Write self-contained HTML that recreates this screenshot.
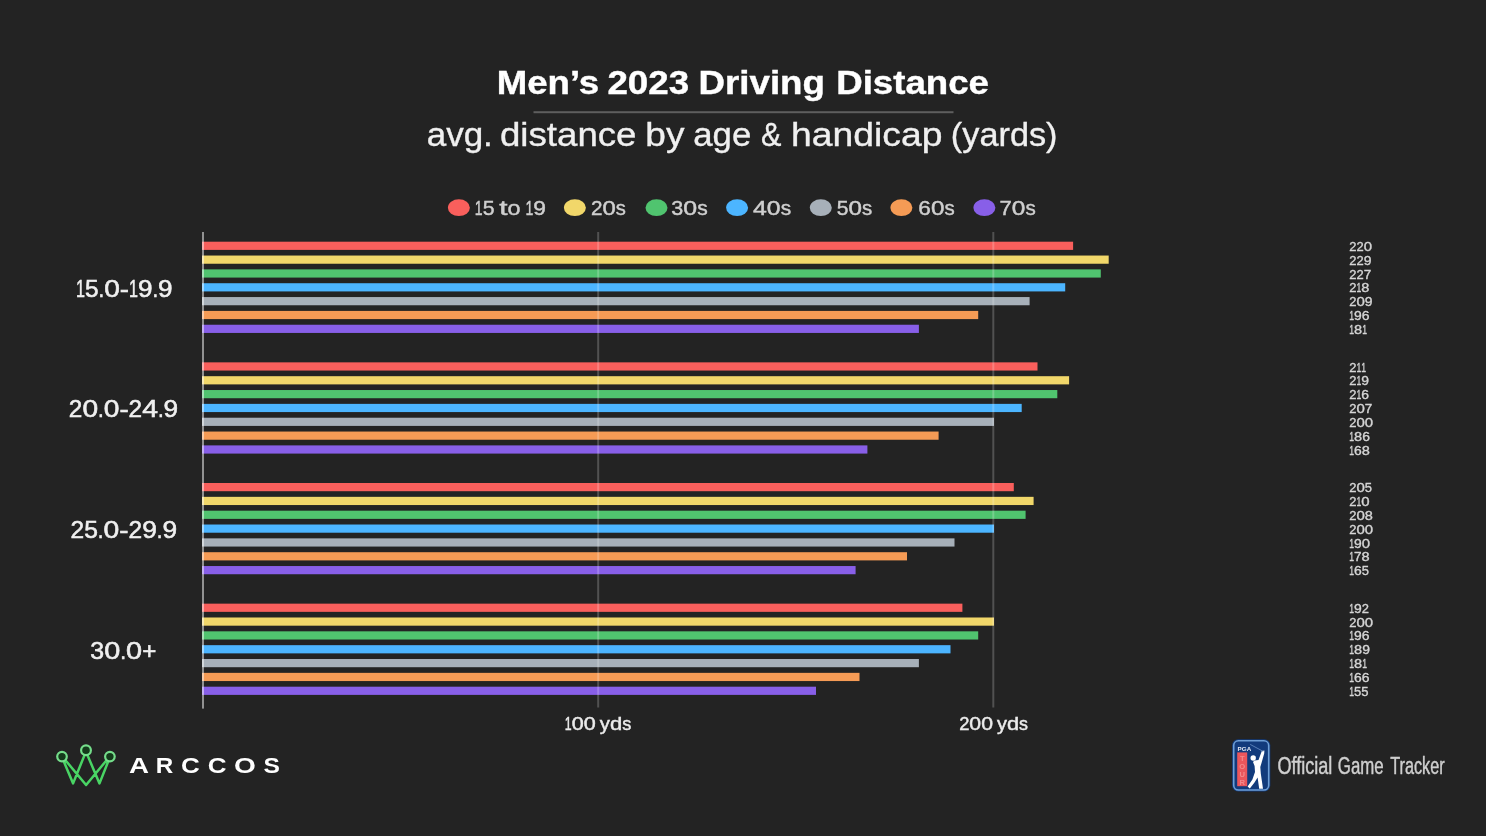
<!DOCTYPE html><html><head><meta charset="utf-8"><title>Men's 2023 Driving Distance</title>
<style>html,body{margin:0;padding:0;background:#232323;}body{width:1486px;height:836px;overflow:hidden;}svg{display:block;filter:blur(0.45px);}text{font-family:"Liberation Sans",sans-serif;}</style></head><body>
<svg width="1486" height="836" viewBox="0 0 1486 836">
<rect width="1486" height="836" fill="#232323"/>
<text x="496.84" y="94.2" font-size="32.3" font-weight="bold" fill="#ffffff" textLength="102.29" lengthAdjust="spacingAndGlyphs" stroke="#ffffff" stroke-width="0.4">Men&#8217;s</text>
<text x="607.46" y="94.2" font-size="32.3" font-weight="bold" fill="#ffffff" textLength="81.61" lengthAdjust="spacingAndGlyphs" stroke="#ffffff" stroke-width="0.4">2023</text>
<text x="698.53" y="94.2" font-size="32.3" font-weight="bold" fill="#ffffff" textLength="126.41" lengthAdjust="spacingAndGlyphs" stroke="#ffffff" stroke-width="0.4">Driving</text>
<text x="836.23" y="94.2" font-size="32.3" font-weight="bold" fill="#ffffff" textLength="152.80" lengthAdjust="spacingAndGlyphs" stroke="#ffffff" stroke-width="0.4">Distance</text>
<rect x="533.5" y="111.2" width="420" height="2" fill="#5e5e5e"/>
<text x="426.72" y="146.0" font-size="32.3" font-weight="normal" fill="#f0f0f0" textLength="66.10" lengthAdjust="spacingAndGlyphs" stroke="#f0f0f0" stroke-width="0.35">avg.</text>
<text x="499.97" y="146.0" font-size="32.3" font-weight="normal" fill="#f0f0f0" textLength="136.51" lengthAdjust="spacingAndGlyphs" stroke="#f0f0f0" stroke-width="0.35">distance</text>
<text x="645.31" y="146.0" font-size="32.3" font-weight="normal" fill="#f0f0f0" textLength="39.14" lengthAdjust="spacingAndGlyphs" stroke="#f0f0f0" stroke-width="0.35">by</text>
<text x="693.32" y="146.0" font-size="32.3" font-weight="normal" fill="#f0f0f0" textLength="57.93" lengthAdjust="spacingAndGlyphs" stroke="#f0f0f0" stroke-width="0.35">age</text>
<text x="760.95" y="146.0" font-size="32.3" font-weight="normal" fill="#f0f0f0" textLength="20.42" lengthAdjust="spacingAndGlyphs" stroke="#f0f0f0" stroke-width="0.35">&amp;</text>
<text x="791.09" y="146.0" font-size="32.3" font-weight="normal" fill="#f0f0f0" textLength="151.39" lengthAdjust="spacingAndGlyphs" stroke="#f0f0f0" stroke-width="0.35">handicap</text>
<text x="950.88" y="146.0" font-size="32.3" font-weight="normal" fill="#f0f0f0" textLength="106.61" lengthAdjust="spacingAndGlyphs" stroke="#f0f0f0" stroke-width="0.35">(yards)</text>
<ellipse cx="458.9" cy="207.7" rx="11" ry="8.4" fill="#f95f5c"/>
<g font-size="20.8" fill="#cfcfcf" stroke="#cfcfcf" stroke-width="0.45">
<text x="474.87" y="215.3" textLength="7.84" lengthAdjust="spacingAndGlyphs">1</text>
<text x="482.71" y="215.3" textLength="11.87" lengthAdjust="spacingAndGlyphs">5</text>
<text x="499.34" y="215.3" textLength="8.27" lengthAdjust="spacingAndGlyphs">t</text>
<text x="507.61" y="215.3" textLength="13.03" lengthAdjust="spacingAndGlyphs">o</text>
<text x="525.40" y="215.3" textLength="7.84" lengthAdjust="spacingAndGlyphs">1</text>
<text x="533.24" y="215.3" textLength="12.70" lengthAdjust="spacingAndGlyphs">9</text>
</g>
<ellipse cx="574.9" cy="207.7" rx="11" ry="8.4" fill="#f1d76a"/>
<g font-size="20.8" fill="#cfcfcf" stroke="#cfcfcf" stroke-width="0.45">
<text x="590.97" y="215.3" textLength="11.52" lengthAdjust="spacingAndGlyphs">2</text>
<text x="602.49" y="215.3" textLength="13.31" lengthAdjust="spacingAndGlyphs">0</text>
<text x="615.80" y="215.3" textLength="10.09" lengthAdjust="spacingAndGlyphs">s</text>
</g>
<ellipse cx="656.5" cy="207.7" rx="11" ry="8.4" fill="#50c46f"/>
<g font-size="20.8" fill="#cfcfcf" stroke="#cfcfcf" stroke-width="0.45">
<text x="671.37" y="215.3" textLength="11.98" lengthAdjust="spacingAndGlyphs">3</text>
<text x="683.35" y="215.3" textLength="13.87" lengthAdjust="spacingAndGlyphs">0</text>
<text x="697.22" y="215.3" textLength="10.51" lengthAdjust="spacingAndGlyphs">s</text>
</g>
<ellipse cx="737.1" cy="207.7" rx="11" ry="8.4" fill="#4cb5ff"/>
<g font-size="20.8" fill="#cfcfcf" stroke="#cfcfcf" stroke-width="0.45">
<text x="752.97" y="215.3" textLength="13.87" lengthAdjust="spacingAndGlyphs">4</text>
<text x="766.84" y="215.3" textLength="13.79" lengthAdjust="spacingAndGlyphs">0</text>
<text x="780.63" y="215.3" textLength="10.45" lengthAdjust="spacingAndGlyphs">s</text>
</g>
<ellipse cx="820.8" cy="207.7" rx="11" ry="8.4" fill="#a7b0b9"/>
<g font-size="20.8" fill="#cfcfcf" stroke="#cfcfcf" stroke-width="0.45">
<text x="836.77" y="215.3" textLength="11.73" lengthAdjust="spacingAndGlyphs">5</text>
<text x="848.50" y="215.3" textLength="13.49" lengthAdjust="spacingAndGlyphs">0</text>
<text x="861.98" y="215.3" textLength="10.22" lengthAdjust="spacingAndGlyphs">s</text>
</g>
<ellipse cx="901.4" cy="207.7" rx="11" ry="8.4" fill="#f59b55"/>
<g font-size="20.8" fill="#cfcfcf" stroke="#cfcfcf" stroke-width="0.45">
<text x="918.37" y="215.3" textLength="12.55" lengthAdjust="spacingAndGlyphs">6</text>
<text x="930.92" y="215.3" textLength="13.49" lengthAdjust="spacingAndGlyphs">0</text>
<text x="944.41" y="215.3" textLength="10.22" lengthAdjust="spacingAndGlyphs">s</text>
</g>
<ellipse cx="984.4" cy="207.7" rx="11" ry="8.4" fill="#885fe8"/>
<g font-size="20.8" fill="#cfcfcf" stroke="#cfcfcf" stroke-width="0.45">
<text x="999.57" y="215.3" textLength="12.27" lengthAdjust="spacingAndGlyphs">7</text>
<text x="1011.84" y="215.3" textLength="13.59" lengthAdjust="spacingAndGlyphs">0</text>
<text x="1025.43" y="215.3" textLength="10.29" lengthAdjust="spacingAndGlyphs">s</text>
</g>
<rect x="202.0" y="241.70" width="871.1" height="8.2" fill="#f95f5c"/>
<g font-size="12.5" fill="#d6d6d6" stroke="#d6d6d6" stroke-width="0.35">
<text x="1349.30" y="250.8" textLength="7.19" lengthAdjust="spacingAndGlyphs">2</text>
<text x="1356.49" y="250.8" textLength="7.19" lengthAdjust="spacingAndGlyphs">2</text>
<text x="1363.69" y="250.8" textLength="8.32" lengthAdjust="spacingAndGlyphs">0</text>
</g>
<rect x="202.0" y="255.54" width="906.7" height="8.2" fill="#f1d76a"/>
<g font-size="12.5" fill="#d6d6d6" stroke="#d6d6d6" stroke-width="0.35">
<text x="1349.30" y="264.6" textLength="7.19" lengthAdjust="spacingAndGlyphs">2</text>
<text x="1356.49" y="264.6" textLength="7.19" lengthAdjust="spacingAndGlyphs">2</text>
<text x="1363.69" y="264.6" textLength="7.74" lengthAdjust="spacingAndGlyphs">9</text>
</g>
<rect x="202.0" y="269.38" width="898.8" height="8.2" fill="#50c46f"/>
<g font-size="12.5" fill="#d6d6d6" stroke="#d6d6d6" stroke-width="0.35">
<text x="1349.30" y="278.5" textLength="7.19" lengthAdjust="spacingAndGlyphs">2</text>
<text x="1356.49" y="278.5" textLength="7.19" lengthAdjust="spacingAndGlyphs">2</text>
<text x="1363.69" y="278.5" textLength="7.51" lengthAdjust="spacingAndGlyphs">7</text>
</g>
<rect x="202.0" y="283.22" width="863.2" height="8.2" fill="#4cb5ff"/>
<g font-size="12.5" fill="#d6d6d6" stroke="#d6d6d6" stroke-width="0.35">
<text x="1349.30" y="292.3" textLength="7.19" lengthAdjust="spacingAndGlyphs">2</text>
<text x="1356.49" y="292.3" textLength="4.78" lengthAdjust="spacingAndGlyphs">1</text>
<text x="1361.27" y="292.3" textLength="8.08" lengthAdjust="spacingAndGlyphs">8</text>
</g>
<rect x="202.0" y="297.06" width="827.6" height="8.2" fill="#a7b0b9"/>
<g font-size="12.5" fill="#d6d6d6" stroke="#d6d6d6" stroke-width="0.35">
<text x="1349.30" y="306.2" textLength="7.19" lengthAdjust="spacingAndGlyphs">2</text>
<text x="1356.49" y="306.2" textLength="8.32" lengthAdjust="spacingAndGlyphs">0</text>
<text x="1364.81" y="306.2" textLength="7.74" lengthAdjust="spacingAndGlyphs">9</text>
</g>
<rect x="202.0" y="310.90" width="776.2" height="8.2" fill="#f59b55"/>
<g font-size="12.5" fill="#d6d6d6" stroke="#d6d6d6" stroke-width="0.35">
<text x="1349.30" y="320.0" textLength="4.78" lengthAdjust="spacingAndGlyphs">1</text>
<text x="1354.08" y="320.0" textLength="7.74" lengthAdjust="spacingAndGlyphs">9</text>
<text x="1361.81" y="320.0" textLength="7.74" lengthAdjust="spacingAndGlyphs">6</text>
</g>
<rect x="202.0" y="324.74" width="716.9" height="8.2" fill="#885fe8"/>
<g font-size="12.5" fill="#d6d6d6" stroke="#d6d6d6" stroke-width="0.35">
<text x="1349.30" y="333.8" textLength="4.78" lengthAdjust="spacingAndGlyphs">1</text>
<text x="1354.08" y="333.8" textLength="8.08" lengthAdjust="spacingAndGlyphs">8</text>
<text x="1362.15" y="333.8" textLength="4.78" lengthAdjust="spacingAndGlyphs">1</text>
</g>
<rect x="202.0" y="362.35" width="835.5" height="8.2" fill="#f95f5c"/>
<g font-size="12.5" fill="#d6d6d6" stroke="#d6d6d6" stroke-width="0.35">
<text x="1349.30" y="371.5" textLength="7.19" lengthAdjust="spacingAndGlyphs">2</text>
<text x="1356.49" y="371.5" textLength="4.78" lengthAdjust="spacingAndGlyphs">1</text>
<text x="1361.27" y="371.5" textLength="4.78" lengthAdjust="spacingAndGlyphs">1</text>
</g>
<rect x="202.0" y="376.19" width="867.1" height="8.2" fill="#f1d76a"/>
<g font-size="12.5" fill="#d6d6d6" stroke="#d6d6d6" stroke-width="0.35">
<text x="1349.30" y="385.3" textLength="7.19" lengthAdjust="spacingAndGlyphs">2</text>
<text x="1356.49" y="385.3" textLength="4.78" lengthAdjust="spacingAndGlyphs">1</text>
<text x="1361.27" y="385.3" textLength="7.74" lengthAdjust="spacingAndGlyphs">9</text>
</g>
<rect x="202.0" y="390.03" width="855.3" height="8.2" fill="#50c46f"/>
<g font-size="12.5" fill="#d6d6d6" stroke="#d6d6d6" stroke-width="0.35">
<text x="1349.30" y="399.1" textLength="7.19" lengthAdjust="spacingAndGlyphs">2</text>
<text x="1356.49" y="399.1" textLength="4.78" lengthAdjust="spacingAndGlyphs">1</text>
<text x="1361.27" y="399.1" textLength="7.74" lengthAdjust="spacingAndGlyphs">6</text>
</g>
<rect x="202.0" y="403.87" width="819.7" height="8.2" fill="#4cb5ff"/>
<g font-size="12.5" fill="#d6d6d6" stroke="#d6d6d6" stroke-width="0.35">
<text x="1349.30" y="413.0" textLength="7.19" lengthAdjust="spacingAndGlyphs">2</text>
<text x="1356.49" y="413.0" textLength="8.32" lengthAdjust="spacingAndGlyphs">0</text>
<text x="1364.81" y="413.0" textLength="7.51" lengthAdjust="spacingAndGlyphs">7</text>
</g>
<rect x="202.0" y="417.71" width="792.0" height="8.2" fill="#a7b0b9"/>
<g font-size="12.5" fill="#d6d6d6" stroke="#d6d6d6" stroke-width="0.35">
<text x="1349.30" y="426.8" textLength="7.19" lengthAdjust="spacingAndGlyphs">2</text>
<text x="1356.49" y="426.8" textLength="8.32" lengthAdjust="spacingAndGlyphs">0</text>
<text x="1364.81" y="426.8" textLength="8.32" lengthAdjust="spacingAndGlyphs">0</text>
</g>
<rect x="202.0" y="431.55" width="736.6" height="8.2" fill="#f59b55"/>
<g font-size="12.5" fill="#d6d6d6" stroke="#d6d6d6" stroke-width="0.35">
<text x="1349.30" y="440.7" textLength="4.78" lengthAdjust="spacingAndGlyphs">1</text>
<text x="1354.08" y="440.7" textLength="8.08" lengthAdjust="spacingAndGlyphs">8</text>
<text x="1362.15" y="440.7" textLength="7.74" lengthAdjust="spacingAndGlyphs">6</text>
</g>
<rect x="202.0" y="445.39" width="665.4" height="8.2" fill="#885fe8"/>
<g font-size="12.5" fill="#d6d6d6" stroke="#d6d6d6" stroke-width="0.35">
<text x="1349.30" y="454.5" textLength="4.78" lengthAdjust="spacingAndGlyphs">1</text>
<text x="1354.08" y="454.5" textLength="7.74" lengthAdjust="spacingAndGlyphs">6</text>
<text x="1361.81" y="454.5" textLength="8.08" lengthAdjust="spacingAndGlyphs">8</text>
</g>
<rect x="202.0" y="483.00" width="811.8" height="8.2" fill="#f95f5c"/>
<g font-size="12.5" fill="#d6d6d6" stroke="#d6d6d6" stroke-width="0.35">
<text x="1349.30" y="492.1" textLength="7.19" lengthAdjust="spacingAndGlyphs">2</text>
<text x="1356.49" y="492.1" textLength="8.32" lengthAdjust="spacingAndGlyphs">0</text>
<text x="1364.81" y="492.1" textLength="7.23" lengthAdjust="spacingAndGlyphs">5</text>
</g>
<rect x="202.0" y="496.84" width="831.6" height="8.2" fill="#f1d76a"/>
<g font-size="12.5" fill="#d6d6d6" stroke="#d6d6d6" stroke-width="0.35">
<text x="1349.30" y="505.9" textLength="7.19" lengthAdjust="spacingAndGlyphs">2</text>
<text x="1356.49" y="505.9" textLength="4.78" lengthAdjust="spacingAndGlyphs">1</text>
<text x="1361.27" y="505.9" textLength="8.32" lengthAdjust="spacingAndGlyphs">0</text>
</g>
<rect x="202.0" y="510.68" width="823.6" height="8.2" fill="#50c46f"/>
<g font-size="12.5" fill="#d6d6d6" stroke="#d6d6d6" stroke-width="0.35">
<text x="1349.30" y="519.8" textLength="7.19" lengthAdjust="spacingAndGlyphs">2</text>
<text x="1356.49" y="519.8" textLength="8.32" lengthAdjust="spacingAndGlyphs">0</text>
<text x="1364.81" y="519.8" textLength="8.08" lengthAdjust="spacingAndGlyphs">8</text>
</g>
<rect x="202.0" y="524.52" width="792.0" height="8.2" fill="#4cb5ff"/>
<g font-size="12.5" fill="#d6d6d6" stroke="#d6d6d6" stroke-width="0.35">
<text x="1349.30" y="533.6" textLength="7.19" lengthAdjust="spacingAndGlyphs">2</text>
<text x="1356.49" y="533.6" textLength="8.32" lengthAdjust="spacingAndGlyphs">0</text>
<text x="1364.81" y="533.6" textLength="8.32" lengthAdjust="spacingAndGlyphs">0</text>
</g>
<rect x="202.0" y="538.36" width="752.5" height="8.2" fill="#a7b0b9"/>
<g font-size="12.5" fill="#d6d6d6" stroke="#d6d6d6" stroke-width="0.35">
<text x="1349.30" y="547.5" textLength="4.78" lengthAdjust="spacingAndGlyphs">1</text>
<text x="1354.08" y="547.5" textLength="7.74" lengthAdjust="spacingAndGlyphs">9</text>
<text x="1361.81" y="547.5" textLength="8.32" lengthAdjust="spacingAndGlyphs">0</text>
</g>
<rect x="202.0" y="552.20" width="705.0" height="8.2" fill="#f59b55"/>
<g font-size="12.5" fill="#d6d6d6" stroke="#d6d6d6" stroke-width="0.35">
<text x="1349.30" y="561.3" textLength="4.78" lengthAdjust="spacingAndGlyphs">1</text>
<text x="1354.08" y="561.3" textLength="7.51" lengthAdjust="spacingAndGlyphs">7</text>
<text x="1361.59" y="561.3" textLength="8.08" lengthAdjust="spacingAndGlyphs">8</text>
</g>
<rect x="202.0" y="566.04" width="653.6" height="8.2" fill="#885fe8"/>
<g font-size="12.5" fill="#d6d6d6" stroke="#d6d6d6" stroke-width="0.35">
<text x="1349.30" y="575.1" textLength="4.78" lengthAdjust="spacingAndGlyphs">1</text>
<text x="1354.08" y="575.1" textLength="7.74" lengthAdjust="spacingAndGlyphs">6</text>
<text x="1361.81" y="575.1" textLength="7.23" lengthAdjust="spacingAndGlyphs">5</text>
</g>
<rect x="202.0" y="603.65" width="760.4" height="8.2" fill="#f95f5c"/>
<g font-size="12.5" fill="#d6d6d6" stroke="#d6d6d6" stroke-width="0.35">
<text x="1349.30" y="612.8" textLength="4.78" lengthAdjust="spacingAndGlyphs">1</text>
<text x="1354.08" y="612.8" textLength="7.74" lengthAdjust="spacingAndGlyphs">9</text>
<text x="1361.81" y="612.8" textLength="7.19" lengthAdjust="spacingAndGlyphs">2</text>
</g>
<rect x="202.0" y="617.49" width="792.0" height="8.2" fill="#f1d76a"/>
<g font-size="12.5" fill="#d6d6d6" stroke="#d6d6d6" stroke-width="0.35">
<text x="1349.30" y="626.6" textLength="7.19" lengthAdjust="spacingAndGlyphs">2</text>
<text x="1356.49" y="626.6" textLength="8.32" lengthAdjust="spacingAndGlyphs">0</text>
<text x="1364.81" y="626.6" textLength="8.32" lengthAdjust="spacingAndGlyphs">0</text>
</g>
<rect x="202.0" y="631.33" width="776.2" height="8.2" fill="#50c46f"/>
<g font-size="12.5" fill="#d6d6d6" stroke="#d6d6d6" stroke-width="0.35">
<text x="1349.30" y="640.4" textLength="4.78" lengthAdjust="spacingAndGlyphs">1</text>
<text x="1354.08" y="640.4" textLength="7.74" lengthAdjust="spacingAndGlyphs">9</text>
<text x="1361.81" y="640.4" textLength="7.74" lengthAdjust="spacingAndGlyphs">6</text>
</g>
<rect x="202.0" y="645.17" width="748.5" height="8.2" fill="#4cb5ff"/>
<g font-size="12.5" fill="#d6d6d6" stroke="#d6d6d6" stroke-width="0.35">
<text x="1349.30" y="654.3" textLength="4.78" lengthAdjust="spacingAndGlyphs">1</text>
<text x="1354.08" y="654.3" textLength="8.08" lengthAdjust="spacingAndGlyphs">8</text>
<text x="1362.15" y="654.3" textLength="7.74" lengthAdjust="spacingAndGlyphs">9</text>
</g>
<rect x="202.0" y="659.01" width="716.9" height="8.2" fill="#a7b0b9"/>
<g font-size="12.5" fill="#d6d6d6" stroke="#d6d6d6" stroke-width="0.35">
<text x="1349.30" y="668.1" textLength="4.78" lengthAdjust="spacingAndGlyphs">1</text>
<text x="1354.08" y="668.1" textLength="8.08" lengthAdjust="spacingAndGlyphs">8</text>
<text x="1362.15" y="668.1" textLength="4.78" lengthAdjust="spacingAndGlyphs">1</text>
</g>
<rect x="202.0" y="672.85" width="657.5" height="8.2" fill="#f59b55"/>
<g font-size="12.5" fill="#d6d6d6" stroke="#d6d6d6" stroke-width="0.35">
<text x="1349.30" y="682.0" textLength="4.78" lengthAdjust="spacingAndGlyphs">1</text>
<text x="1354.08" y="682.0" textLength="7.74" lengthAdjust="spacingAndGlyphs">6</text>
<text x="1361.81" y="682.0" textLength="7.74" lengthAdjust="spacingAndGlyphs">6</text>
</g>
<rect x="202.0" y="686.69" width="614.0" height="8.2" fill="#885fe8"/>
<g font-size="12.5" fill="#d6d6d6" stroke="#d6d6d6" stroke-width="0.35">
<text x="1349.30" y="695.8" textLength="4.78" lengthAdjust="spacingAndGlyphs">1</text>
<text x="1354.08" y="695.8" textLength="7.23" lengthAdjust="spacingAndGlyphs">5</text>
<text x="1361.31" y="695.8" textLength="7.23" lengthAdjust="spacingAndGlyphs">5</text>
</g>
<rect x="597.2" y="232" width="2" height="475.5" fill="#ffffff" fill-opacity="0.21"/>
<rect x="992.3" y="232" width="2" height="475.5" fill="#ffffff" fill-opacity="0.21"/>
<rect x="202" y="232" width="2" height="476.6" fill="#ffffff" fill-opacity="0.5"/>
<g font-size="23.3" fill="#f0f0f0" stroke="#f0f0f0" stroke-width="0.55">
<text x="75.97" y="296.6" textLength="8.96" lengthAdjust="spacingAndGlyphs">1</text>
<text x="84.93" y="296.6" textLength="13.58" lengthAdjust="spacingAndGlyphs">5</text>
<text x="98.51" y="296.6" textLength="5.68" lengthAdjust="spacingAndGlyphs">.</text>
<text x="104.19" y="296.6" textLength="15.61" lengthAdjust="spacingAndGlyphs">0</text>
<text x="119.80" y="296.6" textLength="9.18" lengthAdjust="spacingAndGlyphs">-</text>
<text x="128.98" y="296.6" textLength="8.96" lengthAdjust="spacingAndGlyphs">1</text>
<text x="137.94" y="296.6" textLength="14.52" lengthAdjust="spacingAndGlyphs">9</text>
<text x="152.46" y="296.6" textLength="5.68" lengthAdjust="spacingAndGlyphs">.</text>
<text x="158.14" y="296.6" textLength="14.52" lengthAdjust="spacingAndGlyphs">9</text>
</g>
<g font-size="23.3" fill="#f0f0f0" stroke="#f0f0f0" stroke-width="0.55">
<text x="68.87" y="417.2" textLength="13.55" lengthAdjust="spacingAndGlyphs">2</text>
<text x="82.42" y="417.2" textLength="15.66" lengthAdjust="spacingAndGlyphs">0</text>
<text x="98.08" y="417.2" textLength="5.70" lengthAdjust="spacingAndGlyphs">.</text>
<text x="103.77" y="417.2" textLength="15.66" lengthAdjust="spacingAndGlyphs">0</text>
<text x="119.43" y="417.2" textLength="9.21" lengthAdjust="spacingAndGlyphs">-</text>
<text x="128.64" y="417.2" textLength="13.55" lengthAdjust="spacingAndGlyphs">2</text>
<text x="142.19" y="417.2" textLength="15.76" lengthAdjust="spacingAndGlyphs">4</text>
<text x="157.95" y="417.2" textLength="5.70" lengthAdjust="spacingAndGlyphs">.</text>
<text x="163.64" y="417.2" textLength="14.57" lengthAdjust="spacingAndGlyphs">9</text>
</g>
<g font-size="23.3" fill="#f0f0f0" stroke="#f0f0f0" stroke-width="0.55">
<text x="70.57" y="538.1" textLength="13.61" lengthAdjust="spacingAndGlyphs">2</text>
<text x="84.18" y="538.1" textLength="13.68" lengthAdjust="spacingAndGlyphs">5</text>
<text x="97.86" y="538.1" textLength="5.72" lengthAdjust="spacingAndGlyphs">.</text>
<text x="103.58" y="538.1" textLength="15.73" lengthAdjust="spacingAndGlyphs">0</text>
<text x="119.31" y="538.1" textLength="9.25" lengthAdjust="spacingAndGlyphs">-</text>
<text x="128.56" y="538.1" textLength="13.61" lengthAdjust="spacingAndGlyphs">2</text>
<text x="142.17" y="538.1" textLength="14.63" lengthAdjust="spacingAndGlyphs">9</text>
<text x="156.80" y="538.1" textLength="5.72" lengthAdjust="spacingAndGlyphs">.</text>
<text x="162.52" y="538.1" textLength="14.63" lengthAdjust="spacingAndGlyphs">9</text>
</g>
<g font-size="23.3" fill="#f0f0f0" stroke="#f0f0f0" stroke-width="0.55">
<text x="90.37" y="658.7" textLength="13.86" lengthAdjust="spacingAndGlyphs">3</text>
<text x="104.23" y="658.7" textLength="16.05" lengthAdjust="spacingAndGlyphs">0</text>
<text x="120.27" y="658.7" textLength="5.84" lengthAdjust="spacingAndGlyphs">.</text>
<text x="126.11" y="658.7" textLength="16.05" lengthAdjust="spacingAndGlyphs">0</text>
<text x="142.16" y="658.7" textLength="14.10" lengthAdjust="spacingAndGlyphs">+</text>
</g>
<g font-size="18.2" fill="#ececec" stroke="#ececec" stroke-width="0.45">
<text x="564.87" y="730.2" textLength="6.88" lengthAdjust="spacingAndGlyphs">1</text>
<text x="571.75" y="730.2" textLength="11.98" lengthAdjust="spacingAndGlyphs">0</text>
<text x="583.73" y="730.2" textLength="11.98" lengthAdjust="spacingAndGlyphs">0</text>
<text x="599.88" y="730.2" textLength="10.07" lengthAdjust="spacingAndGlyphs">y</text>
<text x="609.95" y="730.2" textLength="12.25" lengthAdjust="spacingAndGlyphs">d</text>
<text x="622.20" y="730.2" textLength="9.07" lengthAdjust="spacingAndGlyphs">s</text>
</g>
<g font-size="18.2" fill="#ececec" stroke="#ececec" stroke-width="0.45">
<text x="959.17" y="730.2" textLength="10.21" lengthAdjust="spacingAndGlyphs">2</text>
<text x="969.38" y="730.2" textLength="11.80" lengthAdjust="spacingAndGlyphs">0</text>
<text x="981.18" y="730.2" textLength="11.80" lengthAdjust="spacingAndGlyphs">0</text>
<text x="997.09" y="730.2" textLength="9.92" lengthAdjust="spacingAndGlyphs">y</text>
<text x="1007.01" y="730.2" textLength="12.07" lengthAdjust="spacingAndGlyphs">d</text>
<text x="1019.08" y="730.2" textLength="8.94" lengthAdjust="spacingAndGlyphs">s</text>
</g>
<g fill="none" stroke="#49d464" stroke-width="2.5" stroke-linecap="round" stroke-linejoin="round">
<path d="M63.6 761 L73.1 783.4 L84.4 755.4 M87.6 755.4 L99.5 783.4 L108.4 761 M65.4 760.2 L86.1 785 L106.6 760.2"/>
</g>
<g fill="#143a1b" stroke="#74dd8a" stroke-width="2.2">
<circle cx="62.0" cy="756.6" r="4.8"/><circle cx="86.0" cy="750.3" r="4.9"/><circle cx="109.9" cy="756.6" r="4.8"/></g>
<text x="129.0" y="773.3" font-size="22.3" fill="#ffffff" font-weight="bold" text-anchor="start" textLength="20.0" lengthAdjust="spacingAndGlyphs" >A</text>
<text x="155.7" y="773.3" font-size="22.3" fill="#ffffff" font-weight="bold" text-anchor="start" textLength="17.5" lengthAdjust="spacingAndGlyphs" >R</text>
<text x="181.0" y="773.3" font-size="22.3" fill="#ffffff" font-weight="bold" text-anchor="start" textLength="18.8" lengthAdjust="spacingAndGlyphs" >C</text>
<text x="207.8" y="773.3" font-size="22.3" fill="#ffffff" font-weight="bold" text-anchor="start" textLength="18.8" lengthAdjust="spacingAndGlyphs" >C</text>
<text x="233.9" y="773.3" font-size="22.3" fill="#ffffff" font-weight="bold" text-anchor="start" textLength="21.8" lengthAdjust="spacingAndGlyphs" >O</text>
<text x="263.5" y="773.3" font-size="22.3" fill="#ffffff" font-weight="bold" text-anchor="start" textLength="16.4" lengthAdjust="spacingAndGlyphs" >S</text>
<g>
<rect x="1232.1" y="739.2" width="38.2" height="52.4" rx="6" fill="#123b7c"/>
<rect x="1233.7" y="740.8" width="35" height="49.2" rx="4.8" fill="none" stroke="#6e9fd6" stroke-width="1.6"/>
<rect x="1237.2" y="752.4" width="10" height="33.8" fill="#ea565c"/>
<text x="1237.6" y="751.3" font-size="4.6" font-weight="bold" fill="#e3e9f4" textLength="13.6" lengthAdjust="spacingAndGlyphs">PGA</text>
<g fill="#f38a8c" font-size="7.6" font-weight="bold" text-anchor="middle"><text x="1242.2" y="760.6">T</text><text x="1242.2" y="768.8">O</text><text x="1242.2" y="777">U</text><text x="1242.2" y="785.2">R</text></g>
<circle cx="1253.2" cy="758" r="2.7" fill="#ffffff"/>
<path d="M1254.5 760.5 L1258.5 760 L1261.8 751 L1264.4 750.4 L1264.2 753.5 L1261.5 763 L1260.3 767 L1260.8 773.5 L1263 788.8 L1259.2 788.8 L1257.6 777.5 L1254.5 782.5 L1249.8 788.6 L1247.6 786.6 L1252.4 779.5 L1255 772 L1254.6 766 L1253 762 Z" fill="#ffffff"/>
<path d="M1263.2 751.4 L1250.2 744.4" stroke="#5f86bd" stroke-width="0.9"/>
</g>
<text x="1277.41" y="774.0" font-size="23.0" font-weight="normal" fill="#cfcfcf" textLength="54.88" lengthAdjust="spacingAndGlyphs" stroke="#cfcfcf" stroke-width="0.45">Official</text>
<text x="1337.87" y="774.0" font-size="23.0" font-weight="normal" fill="#cfcfcf" textLength="45.80" lengthAdjust="spacingAndGlyphs" stroke="#cfcfcf" stroke-width="0.45">Game</text>
<text x="1390.20" y="774.0" font-size="23.0" font-weight="normal" fill="#cfcfcf" textLength="54.38" lengthAdjust="spacingAndGlyphs" stroke="#cfcfcf" stroke-width="0.45">Tracker</text>
</svg></body></html>
